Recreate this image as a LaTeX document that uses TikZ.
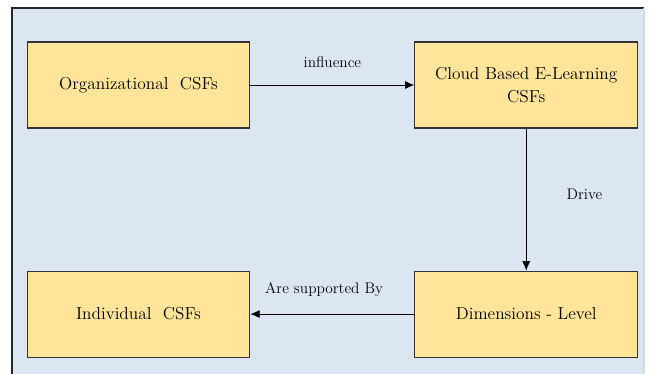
\documentclass[tikz,border=0pt]{standalone}
\usetikzlibrary{positioning,arrows.meta}

\definecolor{bgblue}{RGB}{220,230,242}
\definecolor{boxgold}{RGB}{255,228,153}

\tikzstyle{csf} = [rectangle, draw=black!80, fill=boxgold, line width=0.8pt, minimum width=167pt, minimum height=64.5pt, align=center, font=\fontsize{13}{17}\selectfont]
\tikzstyle{lbl} = [font=\fontsize{11.5}{14}\selectfont, inner sep=0pt]
\tikzstyle{link} = [-{Latex[length=7pt,width=6pt]}, line width=0.6pt]

\begin{document}
\begin{tikzpicture}[x=0.75pt, y=-0.75pt, node distance=123pt and 106.5pt]
  \useasboundingbox (0,0) rectangle (652,374);
  \fill[bgblue] (12,8) rectangle (644,380);
  \draw[black!85, line width=0.8pt] (12,380) -- (12,8) -- (644,8);
  \draw[black!15, line width=0.8pt] (644,8) -- (644,380);

  \node[csf] (org) at (138.5,85) {Organizational\ \ CSFs};
  \node[csf, right=123pt of org] (cloud) {Cloud Based E-Learning\\CSFs};
  \node[csf, below=106.5pt of cloud] (dim) {Dimensions - Level};
  \node[csf, below=106.5pt of org] (indiv) {Individual\ \ CSFs};

  \draw[link] (org) -- node[lbl, above=13pt, midway] {influence} (cloud);
  \draw[link] (cloud) -- node[lbl, right=30pt, pos=0.46] {Drive} (dim);
  \draw[link] (dim) -- node[lbl, above=13pt, pos=0.55] {Are supported By} (indiv);
\end{tikzpicture}
\end{document}
